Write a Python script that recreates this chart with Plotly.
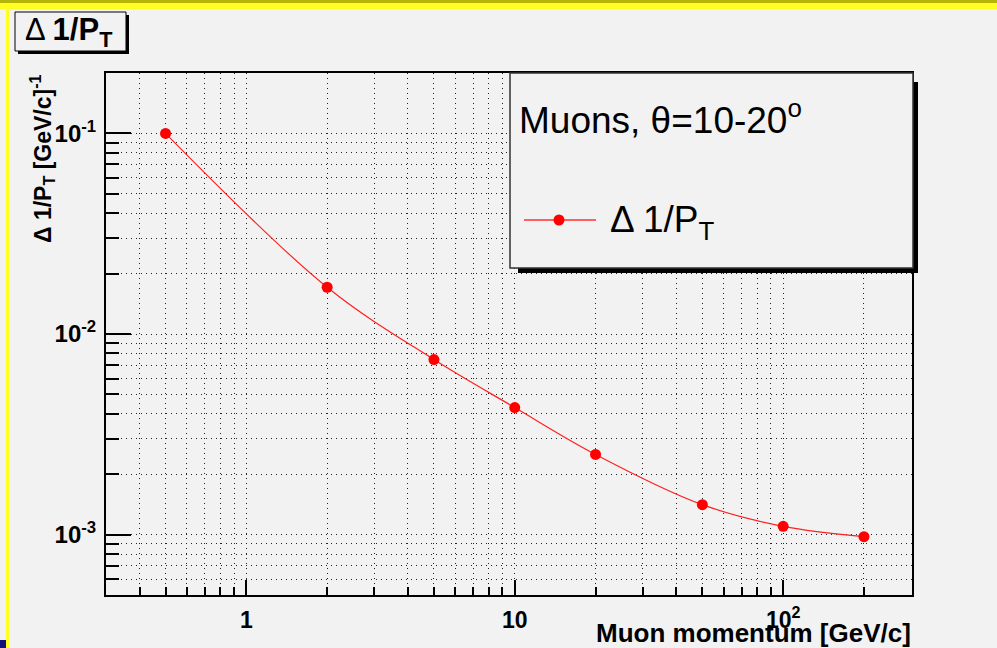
import math
import plotly.graph_objects as go

# Muon transverse-momentum resolution vs. momentum
momentum = [0.5, 2, 5, 10, 20, 50, 100, 200]              # GeV/c
resolution = [0.100, 0.0171, 0.00746, 0.00430, 0.00251, 0.00141, 0.00110, 0.000977]

x_major = [1, 10, 100]
x_major_text = ["1", "10", "10<sup>2</sup>"]
y_major = [1e-3, 1e-2, 1e-1]
y_major_text = ["10<sup>-3</sup>", "10<sup>-2</sup>", "10<sup>-1</sup>"]

W, H = 997, 648
L, R, T, B = 106, 912, 73, 595          # frame in pixels
BG = "#f2f2f2"
FONT = "Liberation Sans, Arial, Helvetica, sans-serif"


def px(x):
    return (x - L) / (R - L)


def py(y):
    return (B - y) / (B - T)


def minors(lo_exp, hi_exp):
    return [k * 10.0 ** e for e in range(lo_exp, hi_exp + 1) for k in range(2, 10)]


grid = dict(showgrid=True, gridcolor="#222222", gridwidth=1, griddash="1px,4px")

fig = go.Figure()
fig.add_trace(go.Scatter(
    x=momentum, y=resolution, mode="lines+markers",
    line=dict(color="#ff2020", width=1.2, shape="spline"),
    marker=dict(color="#ff0000", size=11),
    showlegend=False, hoverinfo="x+y",
))

fig.update_layout(
    width=W, height=H,
    margin=dict(l=L, r=W - R, t=T, b=H - B),
    paper_bgcolor=BG, plot_bgcolor=BG,
    font=dict(family=FONT, color="black"),
    xaxis=dict(
        type="log", range=[math.log10(0.3), math.log10(302)],
        tickmode="array", tickvals=x_major, ticktext=x_major_text,
        ticks="inside", ticklen=15, tickwidth=2, tickcolor="black",
        tickfont=dict(family=FONT, size=23, weight="bold"),
        ticklabelstandoff=3, automargin=False,
        showline=True, linecolor="black", linewidth=2, mirror=True,
        zeroline=False, **grid,
        minor=dict(tickmode="array", tickvals=minors(-1, 2), ticks="inside",
                   ticklen=8, tickwidth=2, tickcolor="black", **grid),
    ),
    yaxis=dict(
        type="log", range=[math.log10(5e-4), math.log10(0.2)],
        tickmode="array", tickvals=y_major, ticktext=y_major_text,
        ticks="inside", ticklen=25, tickwidth=2, tickcolor="black",
        tickfont=dict(family=FONT, size=24, weight="bold"),
        ticklabelstandoff=3, automargin=False,
        showline=True, linecolor="black", linewidth=2, mirror=True,
        zeroline=False, **grid,
        minor=dict(tickmode="array", tickvals=minors(-4, -1), ticks="inside",
                   ticklen=13, tickwidth=2, tickcolor="black", **grid),
    ),
)

shapes = []


def rect(x0, y0, x1, y1, fill, line_color=None, lw=0):
    shapes.append(dict(
        type="rect", xref="paper", yref="paper", layer="above",
        x0=px(x0), x1=px(x1), y0=py(y1), y1=py(y0),
        fillcolor=fill,
        line=dict(color=line_color or fill, width=lw),
    ))


# canvas border decorations
rect(0, 0, W, 3, "#b7b40c")
rect(0, 3, W, 9, "#ffff22")
rect(6, 3, 9, H, "#ffff22")
rect(0, 640, 6, H, "#10107a")

# title box with shadow
rect(18, 15, 129, 54, "black")
rect(15, 12, 126, 51, BG, "black", 1)

# legend box with shadow
rect(518, 82, 918, 273, "black")
rect(510, 73, 913, 268, BG, "#333333", 1.5)

# legend sample: line and marker
shapes.append(dict(type="line", xref="paper", yref="paper", layer="above",
                   x0=px(524), x1=px(596), y0=py(220), y1=py(220),
                   line=dict(color="#ff3030", width=1.5)))
shapes.append(dict(type="circle", xref="paper", yref="paper", layer="above",
                   x0=px(553.5), x1=px(564.5), y0=py(225.5), y1=py(214.5),
                   fillcolor="#ff0000", line=dict(color="#ff0000", width=0)))
fig.update_layout(shapes=shapes)

ann = [
    dict(text="Δ <b>1/P<sub>T</sub></b>", x=px(69), y=py(32),
         font=dict(size=31), xanchor="center", yanchor="middle"),
    dict(text="Muons, θ=10-20<sup>o</sup>", x=px(517), y=py(118),
         font=dict(size=37), xanchor="left", yanchor="middle"),
    dict(text="Δ 1/P<sub>T</sub>", x=px(608), y=py(222),
         font=dict(size=37), xanchor="left", yanchor="middle"),
    dict(text="<b>Muon momentum [GeV/c]</b>", x=px(913), y=py(633),
         font=dict(size=26), xanchor="right", yanchor="middle"),
    dict(text="<b>Δ 1/P<sub>T</sub> [GeV/c]<sup>-1</sup></b>", x=px(42), y=py(159),
         font=dict(size=23), xanchor="center", yanchor="middle", textangle=-90),
]
for a in ann:
    a.update(xref="paper", yref="paper", showarrow=False)
fig.update_layout(annotations=ann)

fig.write_html("out.html")
